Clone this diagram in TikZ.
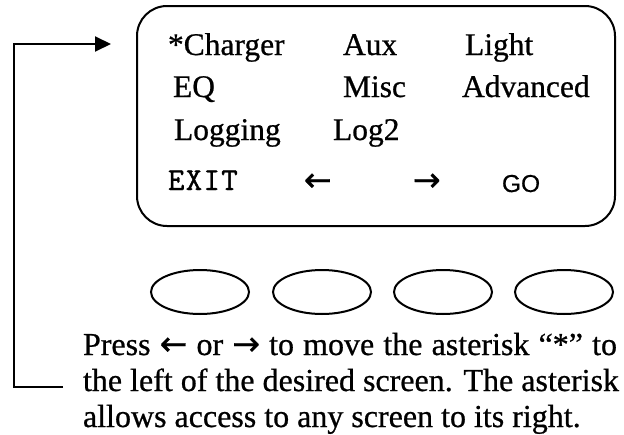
\documentclass[tikz,border=0pt]{standalone}
\usepackage{fontspec}
\setmainfont[FakeBold=0.7]{Liberation Serif}
\newfontfamily\monofont[FakeBold=1.2, LetterSpace=4]{Latin Modern Mono}
\newfontfamily\plainsans[FakeBold=0.5]{Liberation Sans}
\newfontfamily\arrowfont[FakeBold=1]{DejaVu Sans}
\usetikzlibrary{shapes.geometric,arrows.meta}

\newcommand{\larr}{{\arrowfont\fontsize{33}{36}\selectfont ←}}
\newcommand{\rarr}{{\arrowfont\fontsize{33}{36}\selectfont →}}

\tikzset{
  outline/.style={line width=2pt},
  menuitem/.style={anchor=base west, inner sep=0pt, outer sep=0pt,
    font=\fontsize{31.5}{36}\selectfont},
  softkey/.style={outline, draw, ellipse, inner sep=0pt,
    minimum width=98pt, minimum height=44pt},
  helpline/.style={anchor=base west, inner sep=0pt, outer sep=0pt,
    font=\fontsize{32}{36}\selectfont},
}

\begin{document}
\begin{tikzpicture}[x=1pt, y=-1pt]
  \useasboundingbox (0,0) rectangle (624,434);

  % display frame
  \node[outline, draw, rounded corners=30pt, inner sep=0pt,
        minimum width=478pt, minimum height=220pt] (screen) at (376,116) {};

  % menu entries
  \node[menuitem] (charger)  at (168,55)  {*Charger};
  \node[menuitem] (aux)      at (343,55)  {Aux};
  \node[menuitem] (light)    at (465,55)  {Light};
  \node[menuitem] (eq)       at (173,97)  {EQ};
  \node[menuitem] (misc)     at (343,97)  {Misc};
  \node[menuitem] (advanced) at (462,97)  {Advanced};
  \node[menuitem] (logging)  at (174,140) {Logging};
  \node[menuitem] (logtwo)   at (333,140) {Log2};

  % soft-key captions
  \node[menuitem, font=\monofont\fontsize{32}{36}\selectfont] (exit) at (168,190) {EXIT};
  \node[menuitem] (leftkey)  at (304,191) {\larr};
  \node[menuitem] (rightkey) at (413,191) {\rarr};
  \node[menuitem, font=\plainsans\fontsize{24.5}{30}\selectfont] (go) at (502,192) {GO};

  % soft keys
  \node[softkey] (keyA) at (200,292) {};
  \node[softkey] (keyB) at (322,292) {};
  \node[softkey] (keyC) at (443,292) {};
  \node[softkey] (keyD) at (564,292) {};

  % explanation
  \node[helpline] (helpA) at (83,355) {\makebox[534pt][s]{Press \larr{} or \rarr{} to move the asterisk “*” to}};
  \node[helpline] (helpB) at (83,391) {\makebox[536pt][s]{the left of the desired screen. The asterisk}};
  \node[helpline] (helpC) at (83,427) {allows access to any screen to its right.};

  % loop back to the menu
  \coordinate (loopend)    at (63,387);
  \coordinate (loopcorner) at (14,387);
  \coordinate (looptip)    at (111,44);
  \draw[outline, -{Triangle[length=16pt, width=15pt]}]
    (loopend) -- (loopcorner) |- (looptip);
\end{tikzpicture}
\end{document}
